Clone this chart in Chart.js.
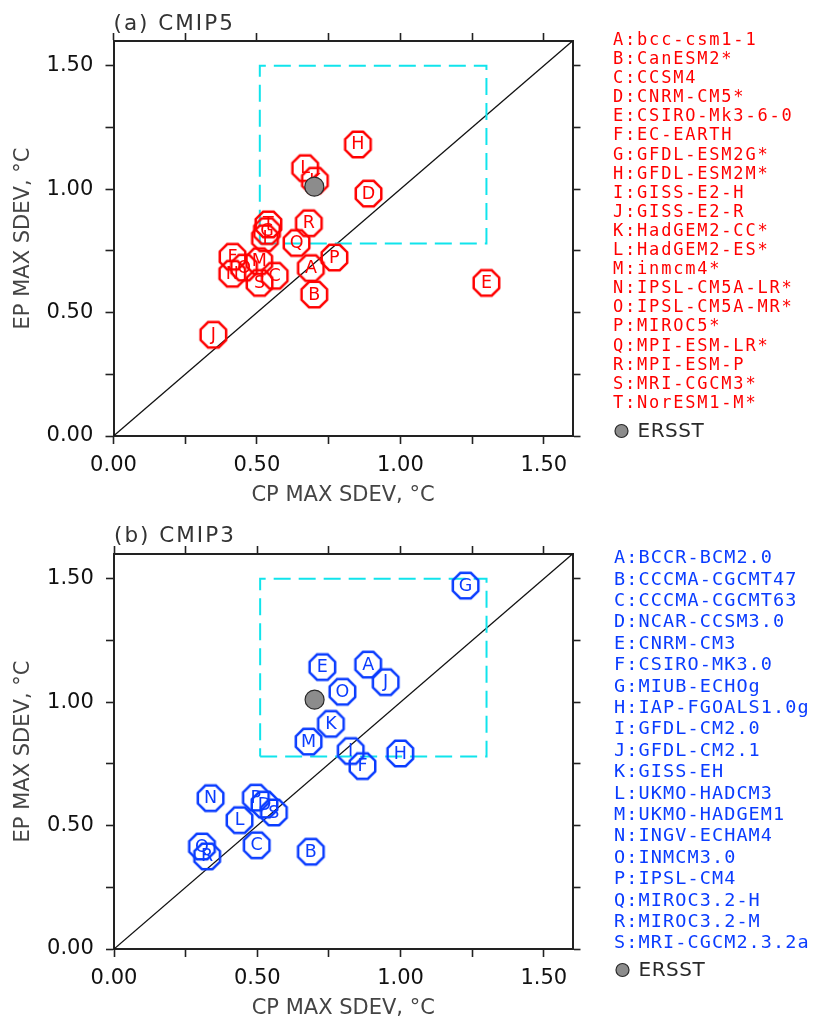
<!DOCTYPE html>
<html><head><meta charset="utf-8">
<script src="https://cdn.jsdelivr.net/npm/chart.js@4.4.1/dist/chart.umd.min.js"></script>
<style>
html,body{margin:0;padding:0;background:#fff;}
canvas{display:block;}
</style></head><body>
<canvas id="ca" width="817" height="512"></canvas>
<canvas id="cb" width="817" height="509"></canvas>
<script>
// ---------- data ----------
const letters5 = ['A','B','C','D','E','F','G','H','I','J','K','L','M','N','O','P','Q','R','S','T'];
const models5 = ['bcc-csm1-1','CanESM2*','CCSM4','CNRM-CM5*','CSIRO-Mk3-6-0','EC-EARTH','GFDL-ESM2G*','GFDL-ESM2M*','GISS-E2-H','GISS-E2-R','HadGEM2-CC*','HadGEM2-ES*','inmcm4*','IPSL-CM5A-LR*','IPSL-CM5A-MR*','MIROC5*','MPI-ESM-LR*','MPI-ESM-P','MRI-CGCM3*','NorESM1-M*'];
const cp5 = [0.688,0.700,0.562,0.889,1.300,0.415,0.535,0.852,0.528,0.348,0.702,0.668,0.508,0.414,0.455,0.770,0.638,0.681,0.509,0.540];
const ep5 = [0.680,0.573,0.649,0.982,0.620,0.726,0.830,1.181,0.801,0.410,1.034,1.085,0.708,0.657,0.682,0.723,0.782,0.862,0.620,0.857];

const letters3 = ['A','B','C','D','E','F','G','H','I','J','K','L','M','N','O','P','Q','R','S'];
const models3 = ['BCCR-BCM2.0','CCCMA-CGCMT47','CCCMA-CGCMT63','NCAR-CCSM3.0','CNRM-CM3','CSIRO-MK3.0','MIUB-ECHOg','IAP-FGOALS1.0g','GFDL-CM2.0','GFDL-CM2.1','GISS-EH','UKMO-HADCM3','UKMO-HADGEM1','INGV-ECHAM4','INMCM3.0','IPSL-CM4','MIROC3.2-H','MIROC3.2-M','MRI-CGCM2.3.2a'];
const cp3 = [0.887,0.687,0.498,0.525,0.727,0.867,1.227,0.999,0.826,0.948,0.757,0.438,0.679,0.337,0.797,0.495,0.307,0.325,0.558];
const ep3 = [1.152,0.394,0.420,0.585,1.142,0.741,1.472,0.792,0.802,1.081,0.912,0.522,0.840,0.611,1.042,0.613,0.415,0.375,0.553];

const obsName = 'ERSST';
const obsCP = [0.70];
const obsEP = [1.01];

const boxCP = [0.51, 1.30, 1.30, 0.51, 0.51];
const boxEP = [0.78, 0.78, 1.50, 1.50, 0.78];
const diagVals = [0, 1.6];

const axisTicks  = [0, 0.25, 0.5, 0.75, 1.0, 1.25, 1.5];
const axisLabels = ['0.00', '', '0.50', '', '1.00', '', '1.50'];
const panelTitles = ['(a) CMIP5', '(b) CMIP3'];
const xTitle = 'CP MAX SDEV, \u00B0C';
const yTitle = 'EP MAX SDEV, \u00B0C';

// ---------- helpers ----------
function octagon(color, r, lw) {
  const s = Math.ceil(2 * r + lw + 2);
  const c = document.createElement('canvas');
  c.width = s; c.height = s;
  const g = c.getContext('2d');
  g.strokeStyle = color; g.lineWidth = lw; g.lineJoin = 'miter';
  g.beginPath();
  for (let k = 0; k < 8; k++) {
    const a = Math.PI / 8 + k * Math.PI / 4;
    const px = s / 2 + r * Math.cos(a), py = s / 2 + r * Math.sin(a);
    if (k) g.lineTo(px, py); else g.moveTo(px, py);
  }
  g.closePath(); g.stroke();
  return c;
}

const annot = {
  id: 'annot',
  afterDatasetDraw(chart, args, o) {
    if (args.index !== 1) return;
    const ctx = chart.ctx;
    ctx.save();
    ctx.fillStyle = o.color;
    ctx.font = '17.5px "DejaVu Sans"';
    ctx.textAlign = 'center';
    ctx.textBaseline = 'middle';
    args.meta.data.forEach((pt, i) => ctx.fillText(o.letters[i], pt.x, pt.y + 0.5));
    ctx.restore();
  },
  afterDraw(chart, args, o) {
    const ctx = chart.ctx;
    const ca = chart.chartArea;
    ctx.save();
    // panel title
    ctx.font = '21.5px "DejaVu Sans"';
    try { ctx.letterSpacing = '2px'; } catch (e) {}
    ctx.fillStyle = '#333';
    ctx.textAlign = 'left';
    ctx.textBaseline = 'middle';
    ctx.fillText(o.title, ca.left, o.titleY);
    // legend
    ctx.font = o.legendSize + 'px "DejaVu Sans Mono"';
    try { ctx.letterSpacing = o.legendSpacing + 'px'; } catch (e) {}
    ctx.fillStyle = o.color;
    o.letters.forEach((L, i) => ctx.fillText(L + ':' + o.models[i], o.legendX, o.legendY0 + i * o.legendDY));
    // ERSST entry
    try { ctx.letterSpacing = '0.5px'; } catch (e) {}
    ctx.beginPath();
    ctx.arc(o.legendX + 8.5, o.obsY, 6.5, 0, Math.PI * 2);
    ctx.fillStyle = '#8c8c8c'; ctx.fill();
    ctx.lineWidth = 1.2; ctx.strokeStyle = '#2a2a2a'; ctx.stroke();
    ctx.font = '20px "DejaVu Sans"';
    ctx.fillStyle = '#2a2a2a';
    ctx.fillText(obsName, o.legendX + 24.5, o.obsY + 0.5);
    ctx.restore();
  }
};

function axis(pos, showLabels, size, title, titlePad) {
  return {
    type: 'linear', position: pos, min: 0, max: 1.6,
    afterBuildTicks: s => { s.ticks = axisTicks.map(v => ({ value: v })); },
    afterFit: s => { if (pos === 'top' || pos === 'bottom') s.height = size; else s.width = size; },
    grid: { display: true, drawOnChartArea: false, drawTicks: true, tickLength: 8, tickWidth: 1.6, tickColor: '#222', color: '#222' },
    border: { display: true, color: '#222', width: 2 },
    ticks: {
      display: showLabels, padding: (pos === 'left' ? 12.2 : 9), autoSkip: false, maxRotation: 0,
      font: { family: 'DejaVu Sans', size: 21 }, color: '#111',
      callback: (v) => { const k = axisTicks.indexOf(v); return k >= 0 ? axisLabels[k] : ''; }
    },
    title: title ? { display: true, text: title, color: '#444', font: { family: 'DejaVu Sans', size: 21 }, padding: titlePad } : { display: false }
  };
}

function makeChart(id, cfg) {
  const oct = octagon(cfg.color, 13.8, 2.5);
  new Chart(document.getElementById(id), {
    type: 'scatter',
    data: {
      datasets: [
        { label: obsName, data: obsCP.map((v, i) => ({ x: v, y: obsEP[i] })), pointStyle: 'circle', pointRadius: 9.5,
          backgroundColor: '#8c8c8c', borderColor: '#2a2a2a', borderWidth: 1.2 },
        { label: 'models', data: cfg.cp.map((v, i) => ({ x: v, y: cfg.ep[i] })), pointStyle: oct, pointRadius: 14,
          borderColor: cfg.color, backgroundColor: 'rgba(0,0,0,0)' },
        { label: 'box', data: boxCP.map((v, i) => ({ x: v, y: boxEP[i] })), showLine: true, borderColor: '#10e4ec',
          borderDash: [17, 8], borderWidth: 2, pointRadius: 0, fill: false },
        { label: 'diag', data: diagVals.map(v => ({ x: v, y: v })), showLine: true, borderColor: '#111',
          borderWidth: 1.3, pointRadius: 0, fill: false }
      ]
    },
    options: {
      responsive: false, animation: false, events: [],
      layout: { padding: 0 },
      plugins: {
        legend: { display: false }, tooltip: { enabled: false }, title: { display: false },
        annot: {
          color: cfg.color, letters: cfg.letters, models: cfg.models, title: cfg.title, titleY: cfg.titleY,
          legendX: cfg.legendX, legendY0: cfg.legendY0, legendDY: cfg.legendDY, legendSize: cfg.legendSize,
          legendSpacing: cfg.legendSpacing, obsY: cfg.obsY
        }
      },
      scales: {
        x: axis('bottom', true, cfg.bottomH, xTitle, { top: 0, bottom: cfg.xTitlePad }),
        x2: axis('top', false, cfg.topH, null),
        y: axis('left', true, cfg.leftW, yTitle, { top: 11.4, bottom: 0 }),
        y2: axis('right', false, 817 - cfg.rightX, null)
      }
    },
    plugins: [annot]
  });
}

makeChart('ca', {
  color: '#ff0000', letters: letters5, models: models5, cp: cp5, ep: ep5, title: panelTitles[0], titleY: 24,
  legendX: 613, legendY0: 40.5, legendDY: 19.1, legendSize: 17, legendSpacing: 1.8, obsY: 431,
  bottomH: 512 - 436, topH: 41, leftW: 113.5, rightX: 572.5, xTitlePad: 4
});
makeChart('cb', {
  color: '#0a3cff', letters: letters3, models: models3, cp: cp3, ep: ep3, title: panelTitles[1], titleY: 24,
  legendX: 614, legendY0: 46.3, legendDY: 21.4, legendSize: 18.5, legendSpacing: 1.1, obsY: 458,
  bottomH: 509 - 437, topH: 42, leftW: 114, rightX: 572.5, xTitlePad: 0
});
</script>
</body></html>
